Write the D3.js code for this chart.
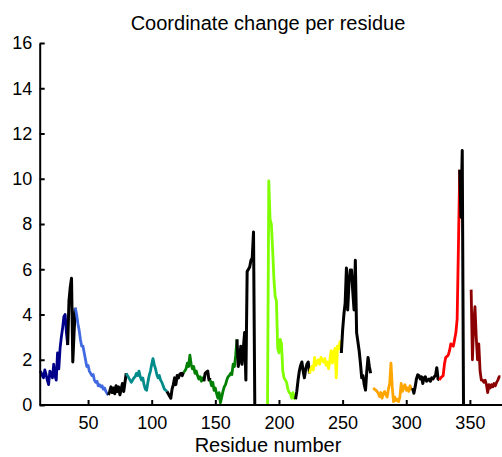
<!DOCTYPE html>
<html>
<head>
<meta charset="utf-8">
<script src="https://cdn.jsdelivr.net/npm/d3@7"></script>
<style>
  html, body { margin: 0; padding: 0; background: #fff; }
  svg { display: block; }
  text { font-family: "Liberation Sans", Arial, Helvetica, sans-serif; fill: #000; }
</style>
</head>
<body>
<svg id="chart" width="502" height="457"></svg>
<script>
// ---- data ----
const chartTitle = "Coordinate change per residue";
const xLabel = "Residue number";
const xTicks = [50, 100, 150, 200, 250, 300, 350];
const yTicks = [0, 2, 4, 6, 8, 10, 12, 14, 16];

// first residue of each segment
const segmentStarts = [12, 34, 40, 66, 80, 112, 125, 141, 146, 167, 191, 213, 224, 249, 274, 305, 326, 342, 351];
const segmentColors = ["#00008B", "#000000", "#4169E1", "#000000", "#008B8B", "#000000", "#008000", "#000000",
  "#008000", "#000000", "#7FFF00", "#000000", "#FFFF00", "#000000", "#FFA500", "#000000", "#FF0000", "#000000", "#8B0000"];

const navyValues = [1.5, 1.45, 1.3, 1.2, 1.55, 1.35, 1.1, 0.9, 1.5, 1.4, 1.2, 1.8, 1.3, 1.1, 2.3, 1.6, 2.5, 3.0, 3.4, 3.9, 4.0, 3.2, 2.65];
const black1Values = [2.65, 4.6, 5.2, 5.6, 1.9, 3.2, 4.3];
const royalValues = [4.3, 4.0, 3.6, 3.3, 2.9, 2.6, 2.6, 2.3, 2.0, 1.7, 1.75, 1.5, 1.4, 1.3, 1.35, 1.1, 1.0, 1.05, 0.85, 0.9, 0.8, 0.85, 0.7, 0.75, 0.6, 0.5, 0.44];
const black2Values = [0.44, 0.6, 0.8, 0.55, 0.75, 0.5, 0.85, 0.6, 0.8, 0.45, 0.7, 0.95, 0.6, 1.0, 1.4];
const tealValues = [1.4, 1.3, 1.2, 1.1, 1.0, 1.1, 1.2, 1.25, 1.4, 1.3, 1.5, 1.25, 1.1, 1.2, 0.9, 0.7, 0.65, 1.0, 1.3, 1.5, 1.8, 2.05, 1.8, 1.6, 1.35, 1.2, 1.3, 1.1, 1.0, 0.85, 0.7, 0.65, 0.6];
const black3Values = [0.6, 0.5, 0.4, 0.3, 0.7, 0.9, 1.2, 0.9, 1.3, 1.2, 1.35, 1.4, 1.3, 1.45];
const green1Values = [1.45, 1.5, 1.6, 1.85, 1.7, 2.2, 1.8, 1.6, 1.7, 1.4, 1.5, 1.3, 1.15, 1.25, 1.05, 1.2, 1.05];
const black4Values = [1.05, 1.4, 1.45, 1.5, 1.1, 1.2];
const green2Values = [1.1, 0.85, 1.0, 0.65, 0.75, 0.5, 0.3, 0.55, 0.1, 0.35, 0.6, 0.8, 0.9, 1.1, 1.25, 1.3, 1.4, 1.35, 1.8, 1.7, 2.2, 2.9];
const black5Values = [2.9, 1.7, 2.0, 2.6, 1.8, 2.5, 3.2, 1.1, 5.9, 6.0, 6.1, 6.4, 6.5, 7.65, 0];
const chartreuseValues = [0, 9.9, 8.2, 8.0, 6.9, 5.6, 4.8, 4.6, 2.5, 2.3, 2.9, 2.7, 1.5, 1.2, 1.1, 1.0, 0.7, 0.55, 0.5, 0.3, 0.55, 0.3, 0.25];
const black6Values = [0.25, 0.6, 1.1, 1.5, 1.75, 1.9, 1.5, 1.2, 1.6, 1.8, 1.9, 1.4];
const yellowValues = [1.4, 1.6, 1.7, 1.55, 2.1, 1.75, 1.9, 2.0, 1.8, 2.1, 2.0, 1.9, 2.05, 1.75, 1.9, 1.6, 2.0, 2.4, 1.85, 2.3, 2.5, 1.2, 2.6, 2.5, 2.8, 2.3];
const black7Values = [2.3, 3.3, 4.0, 4.5, 6.05, 4.2, 5.4, 5.97, 5.97, 5.0, 4.2, 6.4, 3.2, 2.8, 2.4, 1.85, 1.2, 1.3, 0.9, 0.66, 1.5, 2.1, 1.7, 1.4];
const orangeValues = [0.75, 0.7, 0.66, 0.6, 0.52, 0.37, 0.55, 0.3, 0.5, 0.6, 0.45, 0.35, 0.7, 0.95, 1.85, 0.8, 0.15, 0.35, 0.2, 0.25, 0.15, 0.35, 0.95, 0.6, 0.8, 0.9, 0.65, 0.75, 0.6, 0.85, 0.7, 0.75];
const black8Values = [0.75, 0.52, 0.8, 1.15, 1.33, 1.3, 1.15, 1.25, 0.95, 1.2, 1.25, 1.05, 1.1, 1.15, 1.05, 1.2, 1.15, 1.25, 1.3, 1.65, 1.15, 1.1];
const redValues = [1.1, 1.2, 1.25, 1.3, 1.8, 2.1, 2.15, 2.2, 2.4, 2.7, 2.65, 2.6, 2.9, 3.2, 3.8, 7.0, 10.4];
const black9Values = [10.4, 8.3, 11.25, 0];
const darkredValues = [5.1, 2.0, 3.6, 4.35, 3.0, 2.0, 2.7, 1.5, 1.1, 1.1, 1.0, 1.1, 0.9, 0.55, 0.9, 0.75, 0.9, 0.8, 0.95, 0.85, 1.0, 1.1, 1.25, 1.25];

const segmentValues = [navyValues, black1Values, royalValues, black2Values, tealValues, black3Values, green1Values,
  black4Values, green2Values, black5Values, chartreuseValues, black6Values, yellowValues, black7Values,
  orangeValues, black8Values, redValues, black9Values, darkredValues];

// ---- drawing ----
const svg = d3.select("#chart");
const x = d3.scaleLinear().domain([12, 375]).range([39.7, 501.7]);
const y = d3.scaleLinear().domain([0, 16]).range([405, 43]);

const segments = segmentValues.map((vals, i) => ({
  color: segmentColors[i],
  points: vals.map((v, j) => ({ r: segmentStarts[i] + j, v: v }))
}));

const line = d3.line().x(d => x(d.r)).y(d => y(d.v));

svg.append("g").selectAll("path")
  .data(segments)
  .join("path")
  .attr("d", d => line(d.points))
  .attr("fill", "none")
  .attr("stroke", d => d.color)
  .attr("stroke-width", d => d.color === "#000000" ? 3 : 2.8)
  .attr("stroke-linejoin", "round")
  .attr("stroke-linecap", "butt");

// axes
const xAxis = d3.axisBottom(x).tickValues(xTicks).tickSizeInner(-5).tickSizeOuter(0).tickPadding(11.5);
const gx = svg.append("g").attr("transform", "translate(0,405)").call(xAxis);
gx.select(".domain").attr("d", `M${x.range()[0]},0H502`);
const yAxis = d3.axisLeft(y).tickValues(yTicks).tickSizeInner(-5).tickSizeOuter(0).tickPadding(7.5);
const gy = svg.append("g").attr("transform", `translate(${x.range()[0]},0)`).call(yAxis);

[gx, gy].forEach(g => {
  g.select(".domain").attr("stroke", "#000").attr("stroke-width", 2);
  g.selectAll(".tick line").attr("stroke", "#000").attr("stroke-width", 2);
  g.selectAll(".tick text").attr("font-size", 18).attr("font-family", "Liberation Sans, Arial, sans-serif").attr("fill", "#000");
});

svg.append("text")
  .attr("x", 268).attr("y", 30)
  .attr("text-anchor", "middle")
  .attr("font-size", 20)
  .text(chartTitle);

svg.append("text")
  .attr("x", 268).attr("y", 452)
  .attr("text-anchor", "middle")
  .attr("font-size", 20)
  .text(xLabel);
</script>
</body>
</html>
